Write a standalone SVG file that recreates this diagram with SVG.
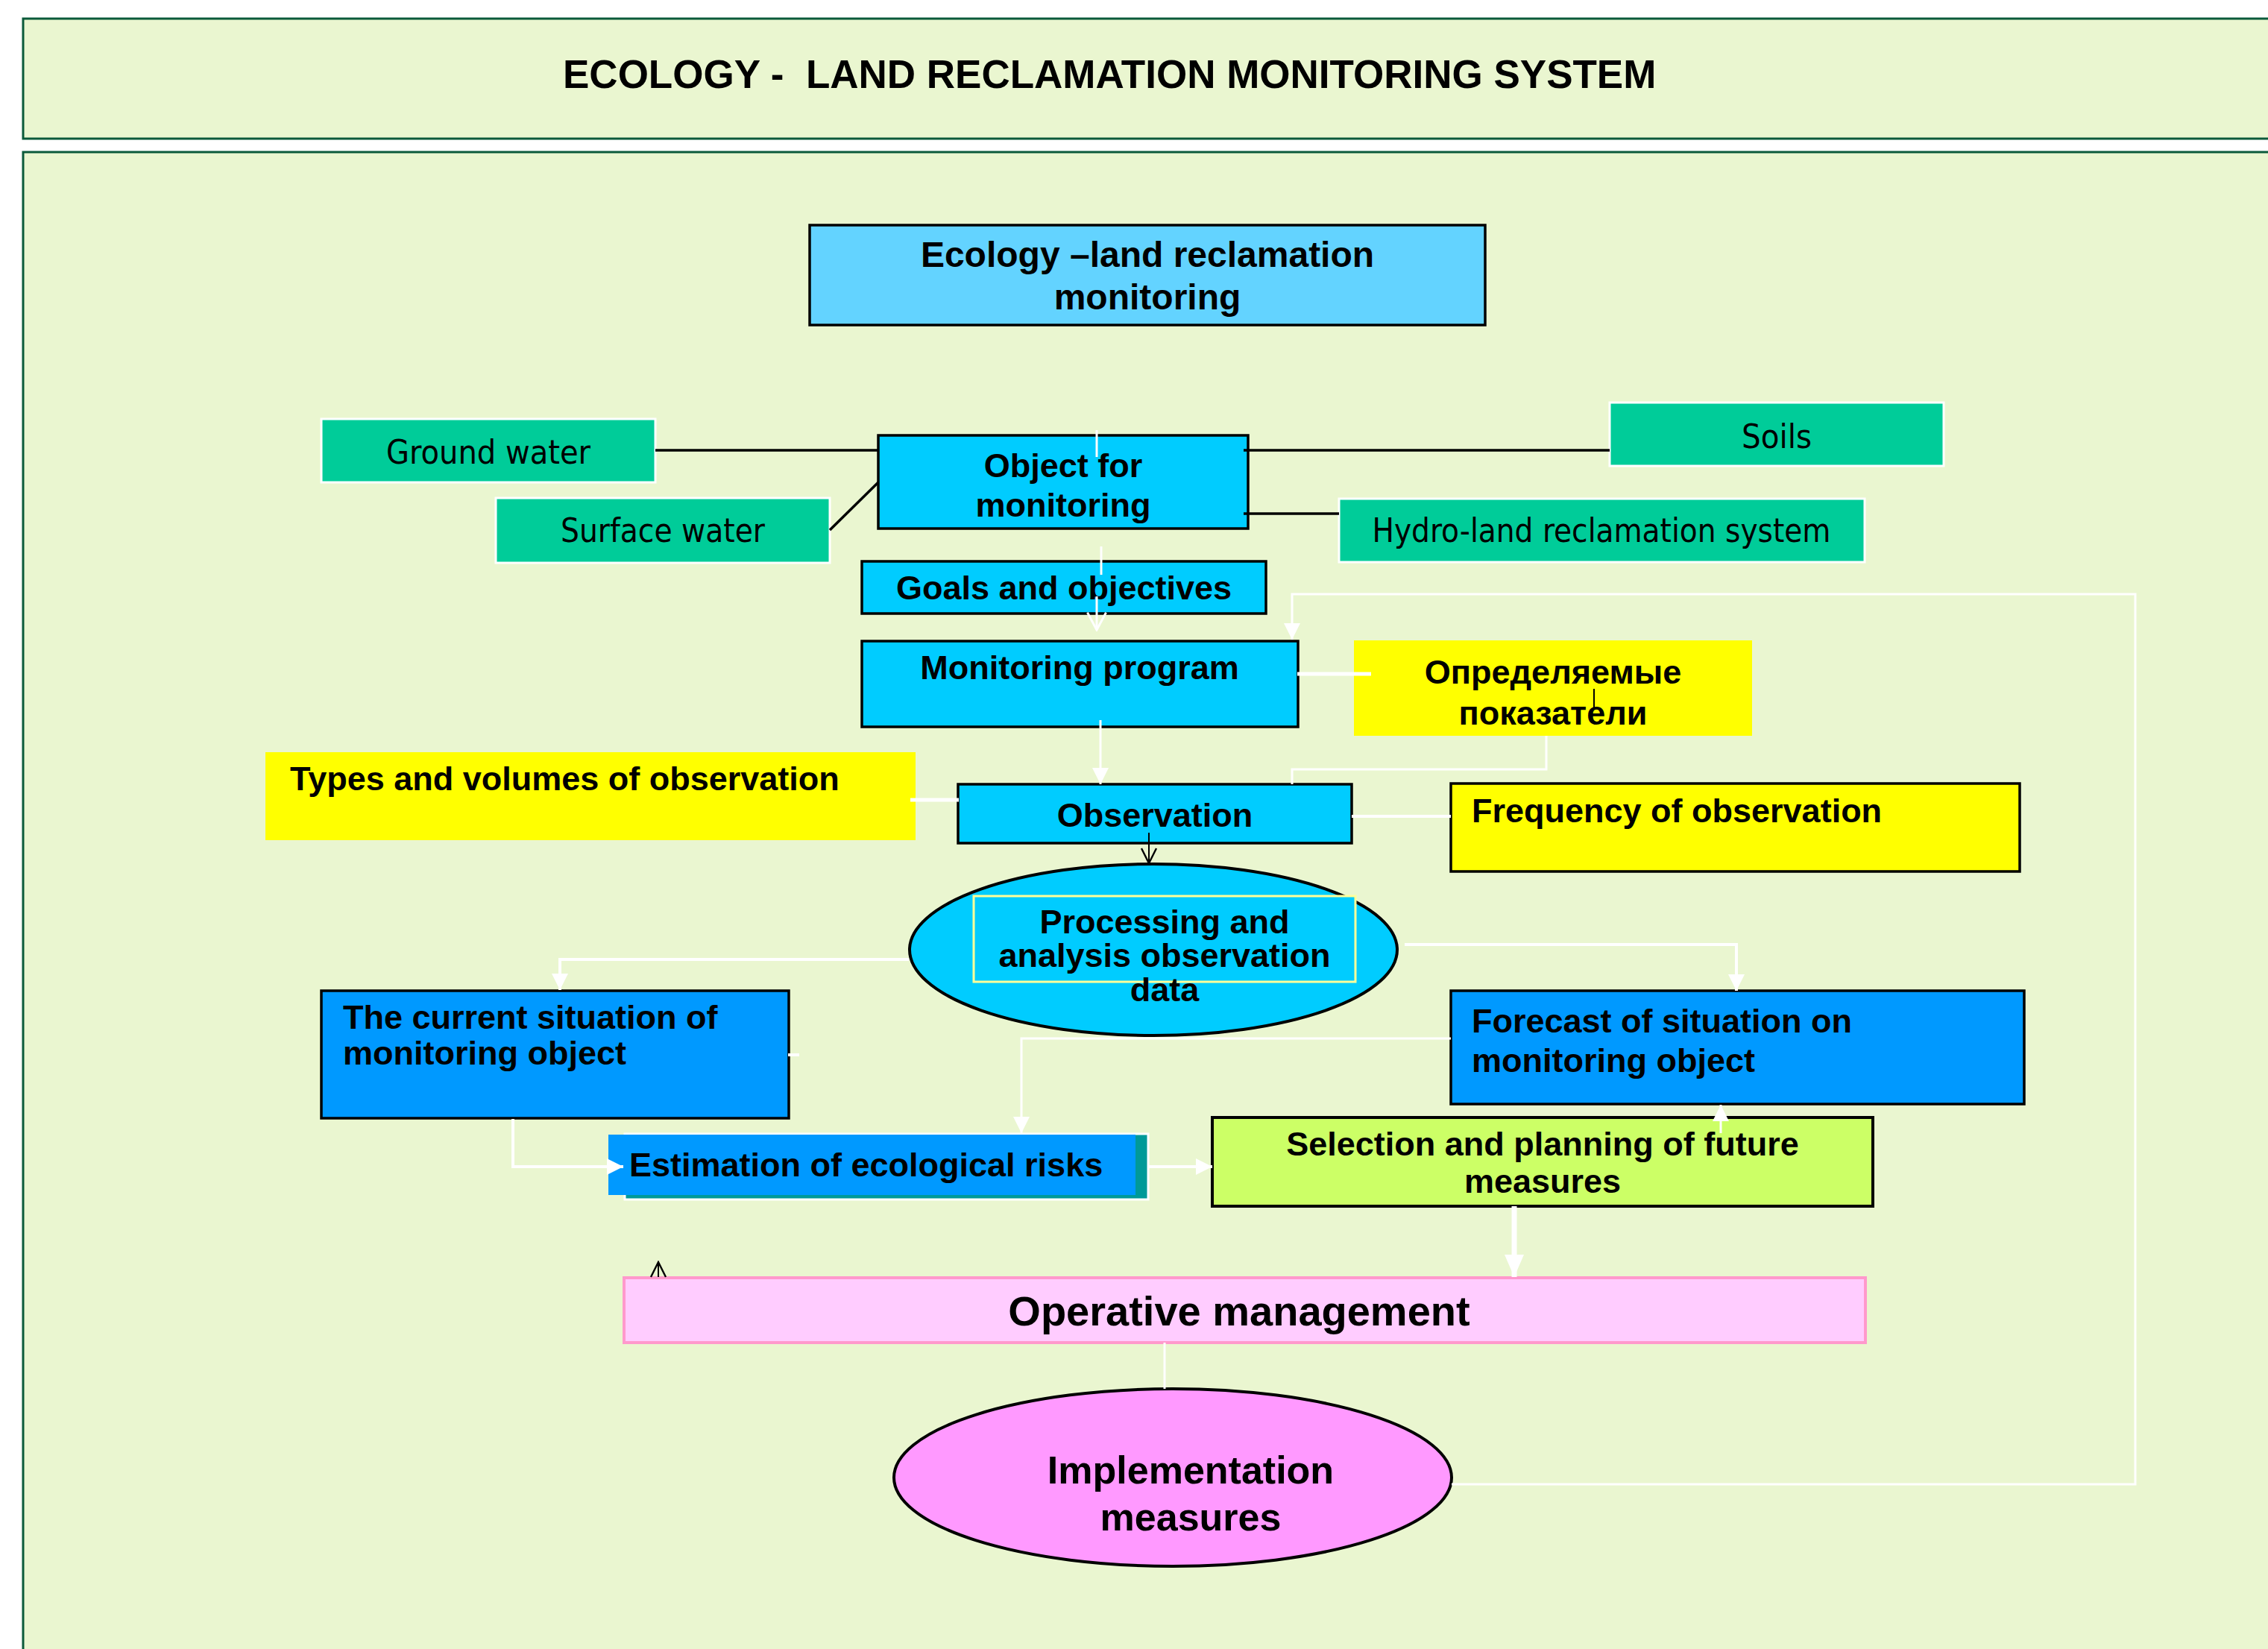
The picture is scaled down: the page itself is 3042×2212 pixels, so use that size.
<svg xmlns="http://www.w3.org/2000/svg" width="3042" height="2212" viewBox="0 0 3042 2212">
  <style>
    .panel { fill: #EAF6D0; stroke: #0B5A3A; stroke-width: 3; }
    .box { stroke: #000; stroke-width: 3.5; }
    .cyan { fill: #00CCFF; }
    .blue { fill: #0099FF; }
    .green { fill: #00CC99; stroke: #FFFFFF; stroke-width: 3; }
    .yellow { fill: #FFFF00; }
    .t { font-family: "Liberation Sans", Arial, sans-serif; font-weight: bold; font-size: 45px; fill: #000; }
    .c { text-anchor: middle; }
    .g { font-family: "DejaVu Sans Condensed", "DejaVu Sans", sans-serif; font-size: 44px; fill: #000; text-anchor: middle; }
    .wire { fill: none; stroke: #000; stroke-width: 3.5; }
    .wl { fill: none; stroke: #FFFFFF; stroke-width: 3; }
  </style>
  <defs>
    <marker id="wArrow" viewBox="0 0 10 10" refX="10" refY="5" markerUnits="userSpaceOnUse" markerWidth="22" markerHeight="22" orient="auto" preserveAspectRatio="none">
      <path d="M0,0 L10,5 L0,10 z" fill="#FFFFFF"/>
    </marker>
    <marker id="wArrowBig" viewBox="0 0 10 10" refX="10" refY="5" markerUnits="userSpaceOnUse" markerWidth="30" markerHeight="26" orient="auto" preserveAspectRatio="none">
      <path d="M0,0 L10,5 L0,10 z" fill="#FFFFFF"/>
    </marker>
    <marker id="wOpen" viewBox="-1 -1 12 12" refX="10" refY="5" markerUnits="userSpaceOnUse" markerWidth="28" markerHeight="30" orient="auto" preserveAspectRatio="none">
      <path d="M0,0 L10,5 L0,10" fill="none" stroke="#FFFFFF" stroke-width="1.2"/>
    </marker>
    <marker id="kOpen" viewBox="-1 -1 12 12" refX="10" refY="5" markerUnits="userSpaceOnUse" markerWidth="24" markerHeight="24" orient="auto" preserveAspectRatio="none">
      <path d="M0,0 L10,5 L0,10" fill="none" stroke="#000" stroke-width="1.2"/>
    </marker>
  </defs>

  <rect width="3042" height="2212" fill="#FFFFFF"/>

  <!-- header panel -->
  <g id="header">
    <rect class="panel" x="31" y="25" width="3040" height="161"/>
    <text class="t" x="755" y="118" style="font-size:53px; white-space:pre">ECOLOGY -  LAND RECLAMATION MONITORING SYSTEM</text>
  </g>

  <!-- main panel -->
  <rect id="canvas" class="panel" x="31" y="204" width="3040" height="2100"/>

  <g id="ecology">
    <rect class="box" x="1086" y="302" width="906" height="134" fill="#63D3FF"/>
    <text class="t c" x="1539" y="358" style="font-size:48px">Ecology –land reclamation</text>
    <text class="t c" x="1539" y="415" style="font-size:48px">monitoring</text>
  </g>

  <g id="ground-water">
    <rect class="green" x="431" y="562" width="448" height="85"/>
    <text class="g" x="655" y="622" textLength="274" lengthAdjust="spacingAndGlyphs">Ground water</text>
  </g>
  <g id="surface-water">
    <rect class="green" x="665" y="668" width="448" height="87"/>
    <text class="g" x="889" y="727" textLength="274" lengthAdjust="spacingAndGlyphs">Surface water</text>
  </g>
  <g id="soils">
    <rect class="green" x="2159" y="540" width="448" height="85"/>
    <text class="g" x="2383" y="601" textLength="94" lengthAdjust="spacingAndGlyphs">Soils</text>
  </g>
  <g id="hydro">
    <rect class="green" x="1796" y="669" width="705" height="85"/>
    <text class="g" x="2148" y="727" textLength="615" lengthAdjust="spacingAndGlyphs">Hydro-land reclamation system</text>
  </g>

  <g id="object">
    <rect class="box cyan" x="1178" y="584" width="496" height="125"/>
    <text class="t c" x="1426" y="640">Object for</text>
    <text class="t c" x="1426" y="693">monitoring</text>
  </g>

  <g id="goals">
    <rect class="box cyan" x="1156" y="753" width="542" height="70"/>
    <text class="t c" x="1427" y="804">Goals and objectives</text>
  </g>

  <g id="program">
    <rect class="box cyan" x="1156" y="860" width="585" height="115"/>
    <text class="t c" x="1448" y="911">Monitoring program</text>
  </g>

  <g id="indicators">
    <rect class="yellow" x="1816" y="859" width="534" height="128"/>
    <text class="t c" x="2083" y="917">Определяемые</text>
    <text class="t c" x="2083" y="972">показатели</text>
  </g>

  <g id="types">
    <rect class="yellow" x="356" y="1009" width="872" height="118"/>
    <text class="t" x="389" y="1060">Types and volumes of observation</text>
  </g>

  <g id="observation">
    <rect class="box cyan" x="1285" y="1052" width="528" height="79"/>
    <text class="t c" x="1549" y="1109">Observation</text>
  </g>

  <g id="frequency">
    <rect class="box yellow" x="1946" y="1051" width="763" height="118"/>
    <text class="t" x="1974" y="1103">Frequency of observation</text>
  </g>

  <g id="processing">
    <ellipse cx="1547" cy="1274" rx="327" ry="115" fill="#00CCFF" stroke="#000" stroke-width="4"/>
    <rect x="1306" y="1202" width="512" height="115" fill="#00CCFF" stroke="#FFFF99" stroke-width="3"/>
    <text class="t c" x="1562" y="1252">Processing and</text>
    <text class="t c" x="1562" y="1297">analysis observation</text>
    <text class="t c" x="1562" y="1343">data</text>
  </g>

  <g id="current">
    <rect class="box blue" x="431" y="1329" width="627" height="171"/>
    <text class="t" x="460" y="1380">The current situation of</text>
    <text class="t" x="460" y="1428">monitoring object</text>
  </g>

  <g id="forecast">
    <rect class="box blue" x="1946" y="1329" width="769" height="152"/>
    <text class="t" x="1974" y="1385">Forecast of situation on</text>
    <text class="t" x="1974" y="1438">monitoring object</text>
  </g>

  <g id="estimation">
    <rect x="838" y="1521" width="702" height="88" fill="#009999" stroke="#FFFFFF" stroke-width="3"/>
    <rect class="blue" x="816" y="1522" width="707" height="81"/>
    <text class="t" x="844" y="1578">Estimation of ecological risks</text>
  </g>

  <g id="selection">
    <rect x="1626" y="1499" width="886" height="119" fill="#CCFF66" stroke="#000" stroke-width="4"/>
    <text class="t c" x="2069" y="1550">Selection and planning of future</text>
    <text class="t c" x="2069" y="1600">measures</text>
  </g>

  <g id="operative">
    <rect x="837" y="1714" width="1665" height="87" fill="#FFCCFF" stroke="#FF99CC" stroke-width="4"/>
    <text class="t c" x="1662" y="1778" style="font-size:56px">Operative management</text>
  </g>

  <g id="implementation">
    <ellipse cx="1573" cy="1982" rx="374" ry="119" fill="#FF99FF" stroke="#000" stroke-width="4"/>
    <text class="t c" x="1597" y="1990" style="font-size:52px">Implementation</text>
    <text class="t c" x="1597" y="2053" style="font-size:52px">measures</text>
  </g>

  <!-- connectors -->
  <g id="connectors">
    <line class="wire" x1="879" y1="604" x2="1178" y2="604"/>
    <line class="wire" x1="1113" y1="711" x2="1178" y2="647"/>
    <line class="wire" x1="1668" y1="604" x2="2159" y2="604"/>
    <line class="wire" x1="1668" y1="689" x2="1796" y2="689"/>
    <line class="wire" x1="2138" y1="924" x2="2138" y2="949" style="stroke-width:2"/>
    <line class="wire" x1="1541" y1="1117" x2="1541" y2="1158" style="stroke-width:2" marker-end="url(#kOpen)"/>
    <line class="wire" x1="883" y1="1713" x2="883" y2="1693" style="stroke-width:2" marker-end="url(#kOpen)"/>

    <line class="wl" x1="1471" y1="577" x2="1471" y2="613"/>
    <line class="wl" x1="1477" y1="733" x2="1477" y2="771"/>
    <line class="wl" x1="1471" y1="800" x2="1471" y2="845" marker-end="url(#wOpen)"/>
    <line class="wl" x1="1476" y1="966" x2="1476" y2="1052" marker-end="url(#wArrow)"/>
    <line class="wl" x1="1740" y1="904" x2="1839" y2="904" style="stroke-width:5"/>
    <polyline class="wl" points="2074,987 2074,1032 1733,1032 1733,1052"/>
    <polyline class="wl" points="1947,1991 2864,1991 2864,797 1733,797 1733,858" marker-end="url(#wArrow)"/>
    <line class="wl" x1="1221" y1="1073" x2="1286" y2="1073" style="stroke-width:5"/>
    <line class="wl" x1="1813" y1="1095" x2="1946" y2="1095" style="stroke-width:4"/>
    <polyline class="wl" points="1219,1287 751,1287 751,1328" style="stroke-width:4" marker-end="url(#wArrow)"/>
    <polyline class="wl" points="1884,1267 2329,1267 2329,1329" style="stroke-width:4" marker-end="url(#wArrow)"/>
    <line class="wl" x1="1057" y1="1415" x2="1072" y2="1415" style="stroke-width:4"/>
    <polyline class="wl" points="688,1501 688,1565 836,1565" style="stroke-width:4" marker-end="url(#wArrow)"/>
    <polyline class="wl" points="1946,1393 1370,1393 1370,1520" marker-end="url(#wArrow)"/>
    <line class="wl" x1="1540" y1="1565" x2="1626" y2="1565" style="stroke-width:4" marker-end="url(#wArrow)"/>
    <line class="wl" x1="2308" y1="1520" x2="2308" y2="1482" marker-end="url(#wArrow)"/>
    <line class="wl" x1="2031" y1="1618" x2="2031" y2="1713" style="stroke-width:7" marker-end="url(#wArrowBig)"/>
    <line class="wl" x1="1562" y1="1801" x2="1562" y2="1863"/>
  </g>
</svg>
